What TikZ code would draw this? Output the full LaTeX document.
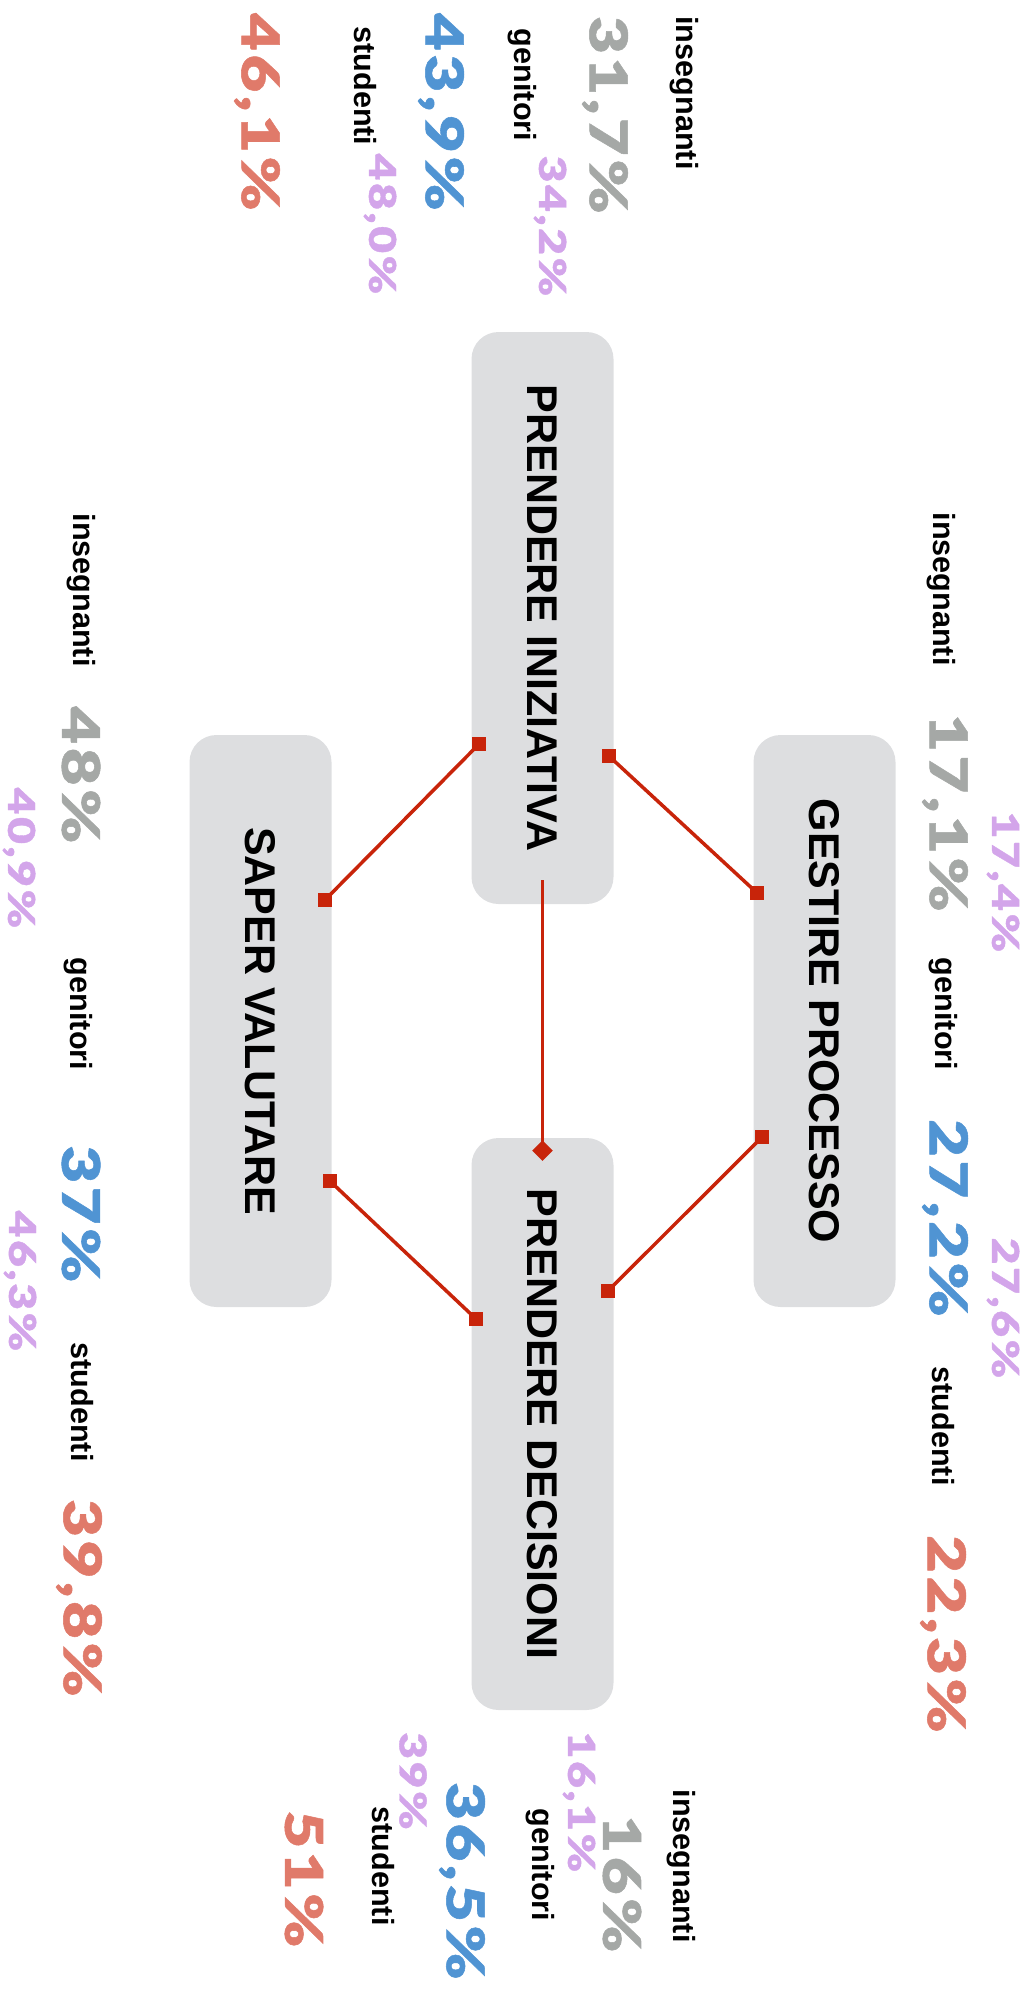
\documentclass[tikz,border=0pt]{standalone}
\usepackage{fontspec}
\usepackage{graphicx}
\setmainfont{Liberation Sans}
\newfontfamily\numfont{Lato Black}[LetterSpace=7,FakeStretch=1.25,FakeBold=1]
\usetikzlibrary{calc}

\definecolor{boxgray}{RGB}{221,222,224}
\definecolor{linkred}{RGB}{200,36,10}
\definecolor{insgray}{RGB}{165,168,166}
\definecolor{genblue}{RGB}{80,148,211}
\definecolor{stured}{RGB}{224,122,106}
\definecolor{oldlilac}{RGB}{211,165,234}

\tikzset{
  area/.style={fill=boxgray, rounded corners=13.5pt, inner sep=0pt,
    minimum width=71pt, minimum height=286pt,
    font=\bfseries\fontsize{21.5}{24}\selectfont},
  who/.style={rotate=-90, inner sep=0pt, font=\bfseries\fontsize{15.3}{17}\selectfont},
  val/.style={rotate=-90, inner sep=0pt, font=\numfont\fontsize{26}{28}\selectfont},
  old/.style={rotate=-90, inner sep=0pt, text=oldlilac, font=\numfont\fontsize{18.5}{20}\selectfont},
  link/.style={draw=linkred, line width=1.75pt},
  dot/.style={fill=linkred, minimum size=7.3pt, inner sep=0pt},
}

\begin{document}
\begin{tikzpicture}[x=0.5pt,y=-0.5pt]
\useasboundingbox (0,0) rectangle (1030,2001);

% the four boxes
\node[area] (pi) at (542.5,618) {\rotatebox{-90}{PRENDERE INIZIATIVA}};
\node[area] (pd) at (542.5,1424) {\rotatebox{-90}{PRENDERE DECISIONI}};
\node[area] (gp) at (824.5,1021) {\rotatebox{-90}{GESTIRE PROCESSO}};
\node[area] (sv) at (260.5,1021) {\rotatebox{-90}{SAPER VALUTARE}};

% connector ends
\coordinate (pi-e) at ($(pi.east)+(-5,138)$);
\coordinate (pi-w) at ($(pi.west)+(8,126)$);
\coordinate (pi-s) at ($(pi.south)+(0,-24)$);
\coordinate (pd-n) at ($(pd.north)+(0,13)$);
\coordinate (pd-e) at ($(pd.east)+(-6,-133)$);
\coordinate (pd-w) at ($(pd.west)+(5,-105)$);
\coordinate (gp-w1) at ($(gp.west)+(4,-128)$);
\coordinate (gp-w2) at ($(gp.west)+(9,116)$);
\coordinate (sv-e1) at ($(sv.east)+(-7,-121)$);
\coordinate (sv-e2) at ($(sv.east)+(-2,160)$);

\draw[link] (pi-e) -- (gp-w1);
\draw[link] (pi-w) -- (sv-e1);
\draw[link] (gp-w2) -- (pd-e);
\draw[link] (sv-e2) -- (pd-w);
\draw[link] (pi-s) -- (pd-n);

\foreach \p in {pi-e,pi-w,pd-e,pd-w,gp-w1,gp-w2,sv-e1,sv-e2}
  \node[dot] (\p-sq) at (\p) {};
\node[dot, rotate=45] (pd-n-sq) at (pd-n) {};

% prendere iniziativa
\node[who] (pi-ins) at (684,93) {insegnanti};
\node[val, text=insgray] (pi-ins-v) at (605,115) {31,7\%};
\node[who] (pi-gen) at (522,85) {genitori};
\node[old] (pi-gen-o) at (550,226) {34,2\%};
\node[val, text=genblue] (pi-gen-v) at (441,112) {43,9\%};
\node[who] (pi-stu) at (365,86) {studenti};
\node[old] (pi-stu-o) at (380,224) {48,0\%};
\node[val, text=stured] (pi-stu-v) at (257,112) {46,1\%};

% gestire processo
\node[who] (gp-ins) at (941,589) {insegnanti};
\node[val, text=insgray] (gp-ins-v) at (945,813) {17,1\%};
\node[old] (gp-ins-o) at (1003,882) {17,4\%};
\node[who] (gp-gen) at (943,1014) {genitori};
\node[val, text=genblue] (gp-gen-v) at (945,1218) {27,2\%};
\node[old] (gp-gen-o) at (1003,1308) {27,6\%};
\node[who] (gp-stu) at (943,1426) {studenti};
\node[val, text=stured] (gp-stu-v) at (943,1634) {22,3\%};

% saper valutare
\node[who] (sv-ins) at (81,590) {insegnanti};
\node[val, text=insgray] (sv-ins-v) at (81,775) {48\%};
\node[old] (sv-ins-o) at (19,858) {40,9\%};
\node[who] (sv-gen) at (78,1014) {genitori};
\node[val, text=genblue] (sv-gen-v) at (81,1214) {37\%};
\node[old] (sv-gen-o) at (20,1281) {46,3\%};
\node[who] (sv-stu) at (82,1402) {studenti};
\node[val, text=stured] (sv-stu-v) at (79,1598) {39,8\%};

% prendere decisioni
\node[who] (pd-ins) at (681,1866) {insegnanti};
\node[val, text=insgray] (pd-ins-v) at (622,1884) {16\%};
\node[old] (pd-ins-o) at (579,1802) {16,1\%};
\node[who] (pd-gen) at (540,1865) {genitori};
\node[val, text=genblue] (pd-gen-v) at (462,1881) {36,5\%};
\node[old] (pd-gen-o) at (413,1781) {39\%};
\node[who] (pd-stu) at (383,1866) {studenti};
\node[val, text=stured] (pd-stu-v) at (304,1879) {51\%};
\end{tikzpicture}
\end{document}
